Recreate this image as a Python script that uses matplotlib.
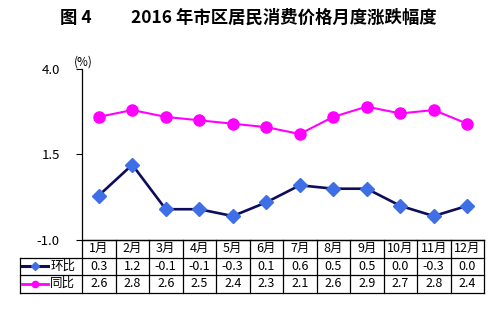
import matplotlib

matplotlib.use("Agg")
import matplotlib.pyplot as plt
from matplotlib.transforms import blended_transform_factory

plt.rcParams["font.family"] = ["Noto Sans CJK SC", "DejaVu Sans"]

MONTHS = ["1月", "2月", "3月", "4月", "5月", "6月", "7月", "8月", "9月", "10月", "11月", "12月"]
HUANBI = [0.3, 1.2, -0.1, -0.1, -0.3, 0.1, 0.6, 0.5, 0.5, 0.0, -0.3, 0.0]
TONGBI = [2.6, 2.8, 2.6, 2.5, 2.4, 2.3, 2.1, 2.6, 2.9, 2.7, 2.8, 2.4]
YTICKS = [-1.0, 1.5, 4.0]

NAVY = "#0d0d5c"
BLUE = "#3f6fe6"
MAGENTA = "#ff00ff"

fig = plt.figure(figsize=(5.0, 3.11), dpi=100)
ax = fig.add_axes([82 / 500, 1 - 240 / 311, 402 / 500, 171 / 311])

x = list(range(1, len(MONTHS) + 1))
ax.plot(x, HUANBI, color=NAVY, lw=1.9, marker="D", markersize=7.5,
        markerfacecolor=BLUE, markeredgecolor=BLUE, zorder=3)
ax.plot(x, TONGBI, color=MAGENTA, lw=1.5, marker="o", markersize=8,
        markerfacecolor=MAGENTA, markeredgecolor=MAGENTA, zorder=3)

ax.set_xlim(0.5, len(MONTHS) + 0.5)
ax.set_ylim(-1.0, 4.0)
ax.set_yticks(YTICKS, [f"{v:.1f}" for v in YTICKS])
ax.set_xticks([])
ax.tick_params(axis="y", direction="out", length=4, labelsize=9.5, pad=12)
ax.spines[["top", "right"]].set_visible(False)
ax.spines["bottom"].set_linewidth(0.9)
ax.spines["left"].set_linewidth(0.9)
ax.text(-0.02, 1.0, "(%)", transform=ax.transAxes, fontsize=8.5, ha="left", va="bottom")

# data table under the axis
tr = blended_transform_factory(ax.transData, ax.transAxes)
rh = 17.5 / 171
left = 0.5 - 62 / 33.5
right = len(MONTHS) + 0.5
rows = [0, -rh, -2 * rh, -3 * rh]
kw = dict(color="black", lw=0.9, transform=tr, clip_on=False)
for i, y in enumerate(rows):
    if i == 0:
        ax.plot([0.5, right], [y, y], **kw)
    else:
        ax.plot([left, right], [y, y], **kw)
for b in range(len(MONTHS) + 1):
    ax.plot([b + 0.5, b + 0.5], [0, rows[-1]], **kw)
ax.plot([left, left], [rows[1], rows[-1]], **kw)

for xi, m, h, t in zip(x, MONTHS, HUANBI, TONGBI):
    ax.text(xi, -0.5 * rh, m, transform=tr, ha="center", va="center", fontsize=9)
    ax.text(xi, -1.5 * rh, f"{h:.1f}", transform=tr, ha="center", va="center", fontsize=9)
    ax.text(xi, -2.5 * rh, f"{t:.1f}", transform=tr, ha="center", va="center", fontsize=9)

# legend keys in the first column
for k, (label, lc, mc, mk, lw) in enumerate([("环比", NAVY, BLUE, "D", 2.2),
                                             ("同比", MAGENTA, MAGENTA, "o", 2.0)]):
    yc = -(1.5 + k) * rh
    ax.plot([left + 0.05, left + 0.85], [yc, yc], color=lc, lw=lw, transform=tr, clip_on=False)
    ax.plot([left + 0.45], [yc], marker=mk, color=mc, markersize=4.5, transform=tr, clip_on=False)
    ax.text(left + 0.9, yc, label, transform=tr, ha="left", va="center", fontsize=9)

fig.text(0.12, 0.942, "图 4", fontsize=12.5, fontweight="bold", ha="left", va="center")
fig.text(0.568, 0.942, "2016 年市区居民消费价格月度涨跌幅度", fontsize=12.5,
         fontweight="bold", ha="center", va="center")

fig.savefig("out.png", dpi=100)
